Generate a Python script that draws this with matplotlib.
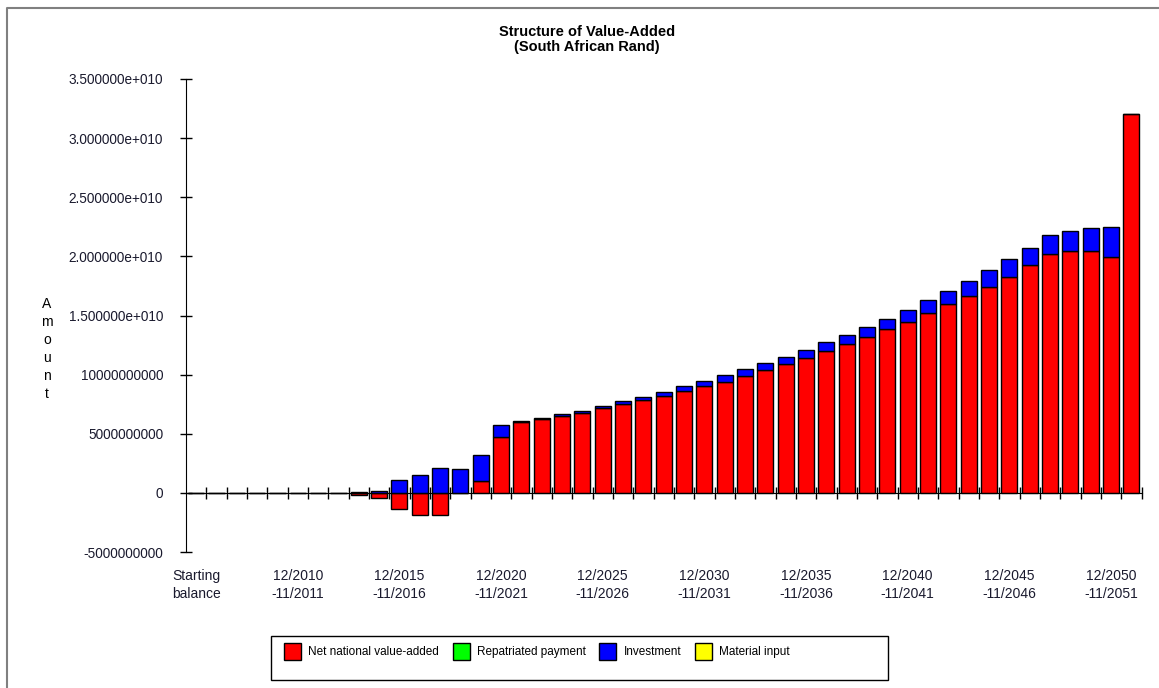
import numpy as np
import matplotlib
matplotlib.use('Agg')
import matplotlib.pyplot as plt
from matplotlib.patches import Patch, Rectangle
from matplotlib.lines import Line2D

plt.rcParams['font.family'] = ['Liberation Sans', 'DejaVu Sans']

# categories: starting balance then one per year
categories = ['Starting balance'] + ['12/%d-11/%d' % (y, y + 1) for y in range(2006, 2052)]

# values in billions of rand
net_value_added = [0, 0, 0, 0, 0, 0, 0, 0, -0.15, -0.45,
                   -1.33, -1.83, -1.83, 0, 1.0, 4.7, 6.0, 6.25, 6.5, 6.79,
                   7.2, 7.52, 7.86, 8.2, 8.62, 9.04, 9.38, 9.89, 10.4, 10.88,
                   11.37, 12.0, 12.6, 13.19, 13.83, 14.48, 15.19, 15.95, 16.65, 17.44,
                   18.28, 19.25, 20.2, 20.48, 20.48, 19.98, 32.0]
investment = [0, 0, 0, 0, 0, 0, 0, 0, 0.1, 0.2,
              1.1, 1.5, 2.07, 2.0, 2.2, 1.05, 0.08, 0.05, 0.15, 0.15,
              0.15, 0.25, 0.28, 0.34, 0.42, 0.43, 0.57, 0.57, 0.56, 0.64,
              0.72, 0.76, 0.73, 0.81, 0.9, 0.99, 1.12, 1.1, 1.25, 1.41,
              1.47, 1.49, 1.6, 1.67, 1.89, 2.48, 0]

series_names = ['Net national value-added', 'Repatriated payment', 'Investment', 'Material input']
series_colors = ['#ff0000', '#00ff00', '#0000ff', '#ffff00']

ytick_values = [-5e9, 0, 5e9, 1e10, 1.5e10, 2e10, 2.5e10, 3e10, 3.5e10]
ytick_labels = ['-5000000000', '0', '5000000000', '10000000000', '1.500000e+010',
                '2.000000e+010', '2.500000e+010', '3.000000e+010', '3.500000e+010']

W, H = 1159., 688.
txt_color = '#1a1a2e'
fig = plt.figure(figsize=(W / 100, H / 100), dpi=100)
ax = fig.add_axes([186 / W, 1 - 552 / H, (1141.5 - 186) / W, (552 - 79) / H])

nva = np.array(net_value_added) * 1e9
inv = np.array(investment) * 1e9
x = np.arange(len(categories)) + 0.5
width = 0.79

ax.bar(x, nva, width, color=series_colors[0], edgecolor='black', linewidth=1)
ax.bar(x, inv, width, bottom=np.maximum(nva, 0), color=series_colors[2],
       edgecolor='black', linewidth=1)

ax.set_xlim(0, len(categories))
ax.set_ylim(-5e9, 3.5e10)

for s in ['top', 'right']:
    ax.spines[s].set_visible(False)
ax.spines['bottom'].set_position(('data', 0))

ax.set_xticks(np.arange(1, len(categories) + 1))
ax.set_xticklabels([])
ax.tick_params(axis='x', direction='inout', length=8, width=1)
ax.set_yticks(ytick_values)
ax.set_yticklabels(ytick_labels)
ax.tick_params(axis='y', direction='inout', length=8, width=1, pad=12.5, labelsize=9.8,
               labelcolor=txt_color)

# every fifth category label, two lines
for i in range(0, len(categories), 5):
    lab = categories[i]
    if i == 0:
        lab = 'Starting\nbalance'
    else:
        lab = lab.replace('-', '\n-')
    ax.text(x[i], -0.036, lab, transform=ax.get_xaxis_transform(), ha='center', va='top',
            fontsize=10, linespacing=1.35, color=txt_color)

fig.text(587 / W, 1 - 39.5 / H, 'Structure of Value-Added\n(South African Rand)', ha='center',
         va='center', fontsize=10.5, fontweight='bold', linespacing=1.15)
fig.text(47 / W, 1 - 349 / H, 'A\nm\no\nu\nn\nt', ha='center', va='center', fontsize=10,
         linespacing=1.37)

# legend
handles = [Patch(facecolor=c, edgecolor='black') for c in series_colors]
fig.legend(handles, series_names, loc='upper left', bbox_to_anchor=(284 / W, 1 - 643 / H),
           ncol=4, frameon=False, borderpad=0, borderaxespad=0, fontsize=8.5,
           handlelength=1.45, handleheight=1.84, handletextpad=0.6, columnspacing=1.15)
fig.add_artist(Rectangle((271 / W, 1 - 680 / H), (888 - 271) / W, (680 - 636) / H,
                         transform=fig.transFigure, fill=False, edgecolor='black', lw=1))

# outer frame
fig.add_artist(Line2D([7 / W, 7 / W, 1], [0, 1 - 8 / H, 1 - 8 / H], color='#808080', lw=1.5))

plt.savefig('out.png', dpi=100)
